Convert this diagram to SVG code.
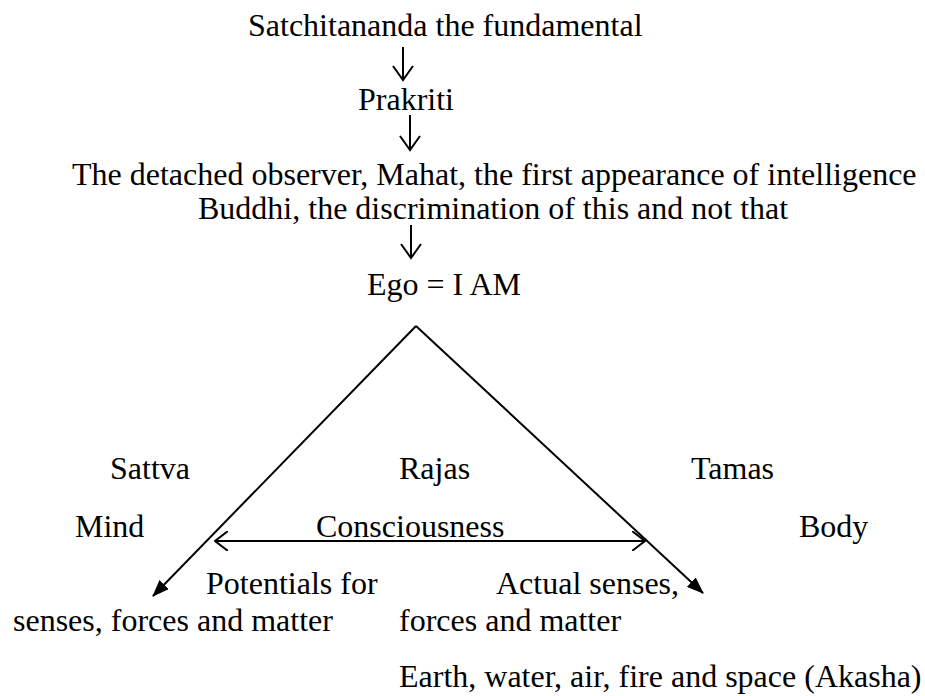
<svg xmlns="http://www.w3.org/2000/svg" width="925" height="696" viewBox="0 0 925 696">
<style>
text{font-family:"Liberation Serif","Times New Roman",serif;font-size:32px;fill:#000}
.ln{stroke:#000;stroke-width:2;fill:none}
</style>
<defs>
<marker id="fill" viewBox="0 0 17 13" refX="16" refY="6.5" markerWidth="17" markerHeight="13" markerUnits="userSpaceOnUse" orient="auto">
<path d="M0,0 L17,6.5 L0,13 Z" fill="#000"/>
</marker>
<marker id="open" viewBox="0 0 14 20" refX="13" refY="10" markerWidth="14" markerHeight="20" markerUnits="userSpaceOnUse" orient="auto-start-reverse">
<path d="M0,0 L13,10 L0,20" fill="none" stroke="#000" stroke-width="2"/>
</marker>
</defs>
<g id="n1"><text x="248" y="36">Satchitananda the fundamental</text></g>
<g id="n2"><text x="358" y="110">Prakriti</text></g>
<g id="n3"><text x="72" y="185">The detached observer, Mahat, the first appearance of intelligence</text>
<text x="198" y="219">Buddhi, the discrimination of this and not that</text></g>
<g id="n4"><text x="367" y="295">Ego = I AM</text></g>
<g id="sattva"><text x="110" y="479">Sattva</text><text x="75" y="537">Mind</text></g>
<g id="rajas"><text x="399" y="479">Rajas</text><text x="316" y="537">Consciousness</text></g>
<g id="tamas"><text x="691" y="479">Tamas</text><text x="799" y="537">Body</text></g>
<g id="potentials"><text x="206" y="594">Potentials for</text><text x="13" y="631">senses, forces and matter</text></g>
<g id="actual"><text x="496" y="594">Actual senses,</text><text x="399" y="631">forces and matter</text>
<text x="399" y="687">Earth, water, air, fire and space (Akasha)</text></g>
<g id="connectors">
<path class="ln" d="M403,47 V80 M393,66 L403,80 L413,66"/>
<path class="ln" d="M410,115 V150 M400,136 L410,150 L420,136"/>
<path class="ln" d="M411,225 V258 M401,244 L411,258 L421,244"/>
<path class="ln" d="M416,326 L153,596" marker-end="url(#fill)"/>
<path class="ln" d="M416,326 L703,593" marker-end="url(#fill)"/>
<path class="ln" d="M215,541 H645" marker-start="url(#open)" marker-end="url(#open)"/>
</g>
</svg>
